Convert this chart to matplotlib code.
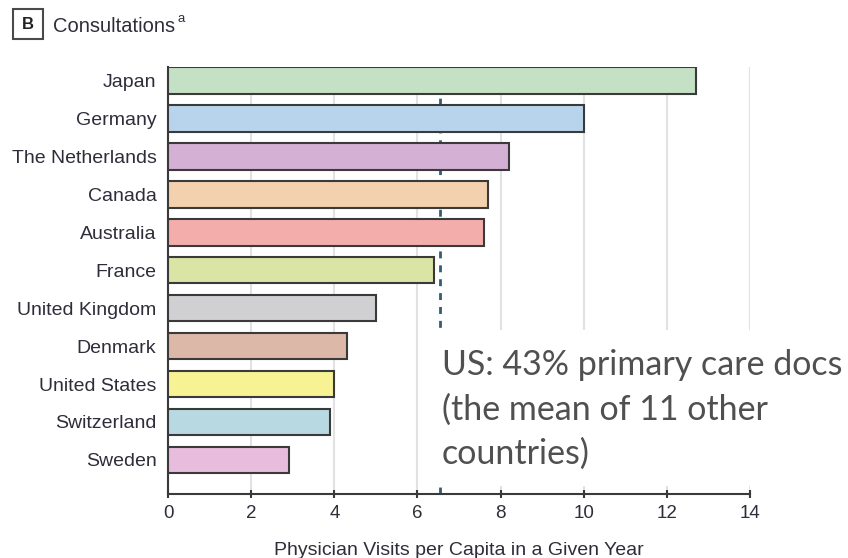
import matplotlib
matplotlib.use("Agg")
import matplotlib.pyplot as plt
from matplotlib.patches import Rectangle

countries = ["Japan", "Germany", "The Netherlands", "Canada", "Australia", "France",
             "United Kingdom", "Denmark", "United States", "Switzerland", "Sweden"]
visits = [12.7, 10.0, 8.2, 7.7, 7.6, 6.4, 5.0, 4.3, 4.0, 3.9, 2.9]
bar_colors = ["#c5e1c5", "#b8d4ec", "#d4b0d4", "#f3d0ae", "#f3aeab", "#d9e4a5",
              "#d0d0d2", "#dcb8a8", "#f7f395", "#b8d9e2", "#e8bcdc"]
mean_others = 6.55
x_ticks = [0, 2, 4, 6, 8, 10, 12, 14]
note_lines = ["US: 43% primary care docs", "(the mean of 11 other", "countries)"]

plt.rcParams["font.family"] = ["Liberation Sans", "DejaVu Sans"]

W, H = 848, 558
fig = plt.figure(figsize=(W / 100, H / 100), dpi=100)
ax = fig.add_axes([168.3 / W, 1 - 494 / H, (749.7 - 168.3) / W, (494 - 67.3) / H])

txt = "#2e2e3a"
pos = list(range(len(countries)))

ax.barh(pos, visits, height=0.7, color=bar_colors, edgecolor="#3a3a3a",
        linewidth=1.5, zorder=3)
ax.axvline(mean_others, color="#2f5f70", linewidth=2, linestyle=(0, (2.5, 2.5)), zorder=2)

ax.set_xlim(0, 14)
ax.set_ylim(len(countries) - 1 + 0.9, -0.35)
ax.set_xticks(x_ticks)
ax.set_yticks(pos)
ax.set_yticklabels(countries)
ax.grid(axis="x", color="#e2e2e2", linewidth=1.5, zorder=0)
ax.set_axisbelow(True)

for s in ["top", "right"]:
    ax.spines[s].set_visible(False)
for s in ["left", "bottom"]:
    ax.spines[s].set_color("#3a3a3a")
    ax.spines[s].set_linewidth(1.5)

ax.tick_params(axis="y", length=0, pad=8.5, labelsize=14, labelcolor=txt)
ax.tick_params(axis="x", direction="inout", length=6, width=1.5, color="#3a3a3a",
               pad=5, labelsize=13.5, labelcolor=txt)
ax.set_xlabel("Physician Visits per Capita in a Given Year", fontsize=14,
              color=txt, labelpad=14)

# panel title
fig.patches.append(Rectangle((12.7 / W, 1 - 39.3 / H), 30.6 / W, 30.3 / H,
                             transform=fig.transFigure, facecolor="white",
                             edgecolor="#4a4a4a", linewidth=1.5))
fig.text(28 / W, 1 - 24.5 / H, "B", fontsize=12, fontweight="bold", color="#222",
         ha="center", va="center")
fig.text(53 / W, 1 - 32.3 / H, "Consultations", fontsize=14.5,
         color=txt, ha="left", va="baseline")
fig.text(177 / W, 1 - 22 / H, "a", fontsize=9.5, color=txt, ha="left", va="baseline")

# annotation
fig.patches.append(Rectangle((436 / W, 1 - 486 / H), (W - 436) / W, 156 / H,
                             transform=fig.transFigure, facecolor="white",
                             edgecolor="none", zorder=1))
for i, line in enumerate(note_lines):
    fig.text(441.7 / W, 1 - (375 + 44.5 * i) / H, line, fontsize=24.5,
             family=["Lato", "DejaVu Sans"], color="#505050", ha="left",
             va="baseline", zorder=3)

fig.savefig("out.png", dpi=100)
